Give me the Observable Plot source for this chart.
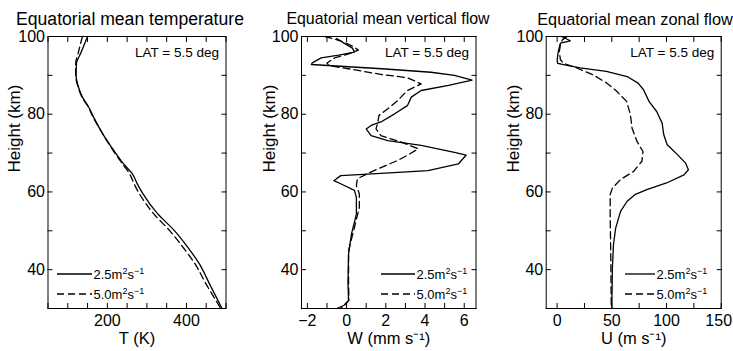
<!DOCTYPE html>
<html><head><meta charset="utf-8">
<script src="https://cdn.jsdelivr.net/npm/d3@7"></script>
<script src="https://cdn.jsdelivr.net/npm/@observablehq/plot@0.6"></script>
<style>
body{margin:0;background:#fff;font-family:"Liberation Sans",Arial,sans-serif;}
#wrap{position:relative;width:733px;height:351px;overflow:hidden;background:#fff;}
.panel{position:absolute;top:0;}
.title{position:absolute;top:11px;line-height:16px;white-space:nowrap;transform:translateX(-50%);color:#000;}
.leg{position:absolute;overflow:visible;}
</style>
</head><body>
<div id="wrap"></div>
<script>
// ---- data ----
const yTicks = [30,40,50,60,70,80,90,100];
const seriesNames = ["2.5m²s⁻¹", "5.0m²s⁻¹"];
const titles = ["Equatorial mean temperature", "Equatorial mean vertical flow", "Equatorial mean zonal flow"];
const latText = "LAT = 5.5 deg";

// Temperature (K) vs height (km)
const tHeightSolid = [100,96,93,90,87,84.4,82,79.7,75,70,67,64.7,62,59.7,54.4,50.1,45.8,41.6,36.4,30];
const tSolid       = [150,134,122,121,127,137,152,163,188,221,243,263,276,289,327,369,403,432,458,490];
const tHeightDash  = [100,96,93,90,87,84.4,82,79.7,75,70,67,64.7,62,59.7,54.4,50.1,45.8,41.6,36.4,30];
const tDashed      = [137,127,120,120,126,136,151,162,188,219,240,256,268,280,317,357,391,421,449,487];
const tTicks = [50,100,150,200,250,300,350,400,450,500];

// Vertical flow W (mm/s) vs height (km)
const wHeightSolid = [99.5,98.5,97,96,95.2,94.5,93.2,92.8,91.7,90.8,90,88.8,87.4,86.1,84.4,82.2,80.1,78,77.1,76.2,74.5,73.2,72,70.2,69.5,67.2,65.5,64.8,64.2,62.9,62.1,60.4,58.6,54.3,49.2,44,36.4,32.1,30.9,30];
const wSolid       = [-0.5,-0.2,0.3,0.4,-0.4,-1.3,-1.75,-1.8,1.8,4.3,5.5,6.4,5.2,3.8,3.3,3.1,2.45,1.75,1.25,1.0,1.25,2.1,3.8,5.5,6.1,5.7,4.15,1.75,-0.3,-0.65,-0.3,0.4,0.5,0.5,0.25,0.1,0.07,0.1,-0.1,-0.5];
const wHeightDash  = [100,99.3,98.5,97.5,96.5,95.5,94.5,93.2,92.5,91.7,90.2,89.4,87.8,86.1,83.5,81.4,79.7,78,76.2,74.5,72.8,71.1,69.4,68.1,65.5,63.4,61.6,59.5,56,50.9,44.9,36.4,32.1,30];
const wDashed      = [-1.1,-0.6,-0.1,0.3,0.6,0.1,-0.6,-1.0,-0.9,0.1,1.8,3.1,3.8,3.1,2.6,2.1,1.65,1.6,1.5,1.75,2.8,3.65,3.1,2.6,1.4,0.55,0.5,0.65,0.65,0.4,0.1,0.1,0.12,-0.3];
const wTicks = [-2,-1,0,1,2,3,4,5,6];

// Zonal flow U (m/s) vs height (km)
const uHeightSolid = [100,98.9,98.3,96.1,94,93.1,92.7,91.9,91,89.7,88,86.3,83.3,80.7,77.7,74.7,72.2,69.6,67.4,65.7,64.4,62.3,60.6,59.3,57.6,55,50.7,46.4,40.4,30];
const uSolid       = [4,12,3,1,0,0.5,7,21,45,64,74,79,84,91,96,97.5,100.5,110,117.5,120,116,100,82,71,64,58,53.5,51.5,50.5,50];
const uHeightDash  = [100,99.2,97.9,96.1,94,93.1,91.9,90.1,88,85.9,83.3,79.9,76.4,73,70.4,67.9,65.3,63.2,61,59.3,53.3,44.7,30];
const uDashed      = [9,5,3,2,3,6,18,33,45.5,54.5,63.5,67,68.5,73,78.5,77.5,70,58,50.5,48.5,48.5,49,49.5];
const uTicks = [0,25,50,75,100,125,150];

// ---- drawing ----
const wrap = document.getElementById("wrap");
const fmt = d => d < 0 ? "\u2212" + Math.abs(d) : String(d);

function rows(h, v, s) { return h.map((hh, i) => ({h: hh, v: v[i], s})); }

function makePanel(cfg) {
  const data = [...rows(cfg.hs, cfg.vs, seriesNames[0]), ...rows(cfg.hd, cfg.vd, seriesNames[1])];
  const edge = cfg.edgeLabel;
  const marks = [
    Plot.frame({stroke: "#000", strokeWidth: 1}),
    Plot.axisY(yTicks, {anchor: "left", tickSize: 5, dx: 5, tickPadding: 3, tickFormat: d => d % 20 === 0 ? fmt(d) : "", label: null}),
    Plot.axisY(yTicks, {anchor: "right", tickSize: 5, dx: -5, tickFormat: () => "", label: null}),
    Plot.axisX(cfg.xTicks, {anchor: "bottom", tickSize: 5, dy: -5, tickPadding: 6, tickFormat: d => (cfg.xLabelTicks.includes(d) && d !== edge) ? fmt(d) : "", label: null}),
    Plot.axisX(cfg.xTicks, {anchor: "top", tickSize: 5, dy: 5, tickFormat: () => "", label: null}),
    Plot.line(data.filter(d => d.s === seriesNames[0]), {x: "v", y: "h", stroke: "#000", strokeWidth: 1.3, curve: cfg.curve}),
    Plot.line(data.filter(d => d.s === seriesNames[1]), {x: "v", y: "h", stroke: "#000", strokeWidth: 1.3, strokeDasharray: "7,4", curve: cfg.curve}),
    Plot.text([latText], {frameAnchor: "top-right", dx: -7, dy: 11, fontSize: 13.5, textAnchor: "end"}),
    Plot.text(["Height (km)"], {frameAnchor: "left", dx: cfg.ylabDx, rotate: -90, fontSize: 17}),
    Plot.text([cfg.xLabel], {frameAnchor: "bottom", dy: 35.5, fontSize: 16.5})
  ];
  if (edge !== undefined) {
    // last tick label sits at the window edge: nudge it just inside
    marks.push(Plot.axisX([edge], {anchor: "bottom", tickSize: 0, dy: -5, dx: -2.5, tickPadding: 11, tickFormat: fmt, label: null}));
  }
  const svg = Plot.plot({
    width: cfg.width, height: 351,
    marginTop: 36, marginBottom: 43, marginLeft: cfg.ml, marginRight: cfg.mr,
    x: {domain: cfg.xDomain},
    y: {domain: [30, 100]},
    style: {fontFamily: "'Liberation Sans', Arial, sans-serif", fontSize: "16px", color: "#000", background: "transparent", overflow: "visible"},
    marks
  });
  svg.classList.add("panel");
  svg.style.left = cfg.left + "px";
  wrap.appendChild(svg);
}

makePanel({left: 0, width: 245, ml: 47.5, mr: 19.5, xDomain: [50, 500], xTicks: tTicks, xLabelTicks: [200, 400],
  hs: tHeightSolid, vs: tSolid, hd: tHeightDash, vd: tDashed, curve: "monotone-y", ylabDx: -33.5, xLabel: "T (K)"});
makePanel({left: 245, width: 245, ml: 56, mr: 14.5, xDomain: [-2.3, 6.6], xTicks: wTicks, xLabelTicks: [-2, 0, 2, 4, 6],
  hs: wHeightSolid, vs: wSolid, hd: wHeightDash, vd: wDashed, curve: "linear", ylabDx: -31.5, xLabel: "W (mm s\u207B\u00B9)"});
makePanel({left: 490, width: 243, ml: 55.7, mr: 12.3, xDomain: [-10, 150], xTicks: uTicks, xLabelTicks: [0, 50, 100, 150], edgeLabel: 150,
  hs: uHeightSolid, vs: uSolid, hd: uHeightDash, vd: uDashed, curve: "linear", ylabDx: -33, xLabel: "U (m s\u207B\u00B9)"});

// titles
[[titles[0], 130, 17.6], [titles[1], 388, 15.9], [titles[2], 635, 16.3]].forEach(([t, cx, fs]) => {
  const d = document.createElement("div");
  d.className = "title"; d.textContent = t; d.style.left = cx + "px"; d.style.fontSize = fs + "px";
  wrap.appendChild(d);
});

// legends (inside plots)
const NS = "http://www.w3.org/2000/svg";
function legendEntry(x1, x2, y, dashed, label) {
  const s = document.createElementNS(NS, "svg");
  s.setAttribute("class", "leg");
  s.setAttribute("width", 100); s.setAttribute("height", 20);
  s.style.left = x1 + "px"; s.style.top = (y - 10) + "px";
  const ln = document.createElementNS(NS, "line");
  ln.setAttribute("x1", 0); ln.setAttribute("x2", x2 - x1); ln.setAttribute("y1", 10); ln.setAttribute("y2", 10);
  ln.setAttribute("stroke", "#000"); ln.setAttribute("stroke-width", 1.3);
  if (dashed) ln.setAttribute("stroke-dasharray", "7,4");
  s.appendChild(ln);
  const tx = document.createElementNS(NS, "text");
  tx.setAttribute("x", x2 - x1 + 1.5); tx.setAttribute("y", 14.5);
  tx.setAttribute("font-family", "'Liberation Sans', Arial, sans-serif");
  tx.setAttribute("font-size", 13);
  const m = label.match(/^([\d.]+m)²s⁻¹$/);
  const parts = [[m[1], 0, 13], ["2", -5, 9], ["s", 5, 13], ["\u22121", -5, 9]];
  parts.forEach(([str, dy, fs]) => {
    const sp = document.createElementNS(NS, "tspan");
    sp.setAttribute("dy", dy); sp.setAttribute("font-size", fs);
    sp.textContent = str; tx.appendChild(sp);
  });
  s.appendChild(tx);
  wrap.appendChild(s);
}
[[57, 92], [381, 415], [625, 655]].forEach(([a, b]) => {
  legendEntry(a, b, 274, false, seriesNames[0]);
  legendEntry(a, b, 294, true, seriesNames[1]);
});
</script>
</body></html>
